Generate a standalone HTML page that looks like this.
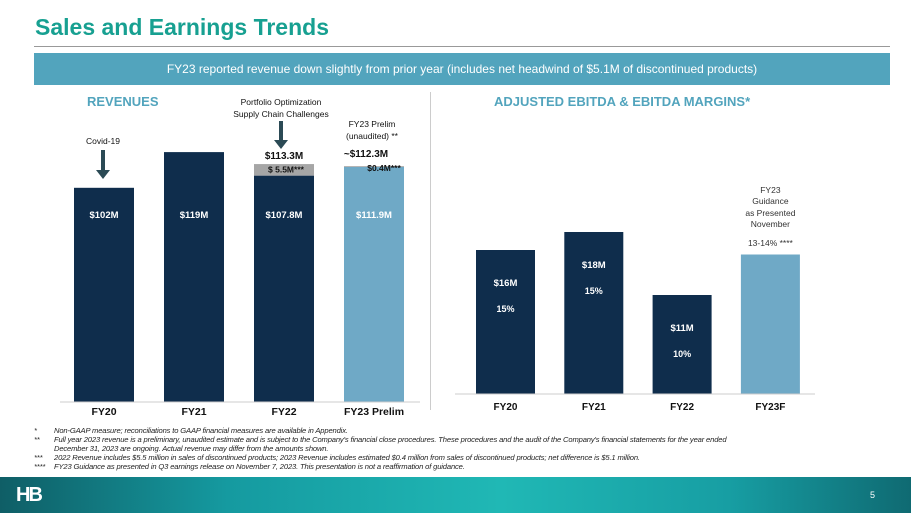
<!DOCTYPE html>
<html><head><meta charset="utf-8">
<style>
body{margin:0;width:911px;height:513px;overflow:hidden;background:#fff;font-family:"Liberation Sans",sans-serif;position:relative}
.a{position:absolute}
</style></head><body>
<div class="a" style="left:35px;top:14px;font-size:23px;font-weight:bold;color:#17a091">Sales and Earnings Trends</div>
<div class="a" style="left:34px;top:46px;width:856px;height:1px;background:#999"></div>
<div class="a" style="left:34px;top:53px;width:856px;height:32px;background:#52a4bd;color:#fff;font-size:12px;line-height:32px;text-align:center">FY23 reported revenue down slightly from prior year (includes net headwind of $5.1M of discontinued products)</div>
<div class="a" style="left:87px;top:94px;font-size:13px;font-weight:bold;color:#52a4bd">REVENUES</div>
<div class="a" style="left:494px;top:94px;font-size:13px;font-weight:bold;color:#52a4bd">ADJUSTED EBITDA &amp; EBITDA MARGINS*</div>
<div class="a" style="left:430px;top:92px;width:1px;height:318px;background:#ccc"></div>
<svg class="a" id="chart" style="left:0;top:0" width="911" height="513"></svg>
<div class="a" style="left:34px;top:426px;font-size:7.6px;font-style:italic;color:#222;line-height:9px;letter-spacing:-0.15px;white-space:nowrap">
<div><span style="display:inline-block;width:20px">*</span>Non-GAAP measure; reconciliations to GAAP financial measures are available in Appendix.</div>
<div><span style="display:inline-block;width:20px">**</span>Full year 2023 revenue is a preliminary, unaudited estimate and is subject to the Company's financial close procedures. These procedures and the audit of the Company's financial statements for the year ended</div>
<div><span style="display:inline-block;width:20px"></span>December 31, 2023 are ongoing. Actual revenue may differ from the amounts shown.</div>
<div><span style="display:inline-block;width:20px">***</span>2022 Revenue includes $5.5 million in sales of discontinued products; 2023 Revenue includes estimated $0.4 million from sales of discontinued products; net difference is $5.1 million.</div>
<div><span style="display:inline-block;width:20px">****</span>FY23 Guidance as presented in Q3 earnings release on November 7, 2023. This presentation is not a reaffirmation of guidance.</div>
</div>
<div class="a" style="left:0;top:477px;width:911px;height:36px;background:linear-gradient(90deg,#0f5e66 0%,#159aa0 25%,#20b8b5 55%,#179ea3 80%,#0f6a72 100%)"></div>
<div class="a" style="left:16px;top:484px;font-size:20px;font-weight:bold;color:#fff;letter-spacing:-2px">HB</div>
<div class="a" style="left:870px;top:490px;font-size:9px;color:#fff">5</div>
<script>
const revCats=["FY20","FY21","FY22","FY23 Prelim"];
const revBase=[102,119,107.8,111.9];
const revDisc=[0,0,5.5,0.4];
const revInLabels=["$102M","$119M","$107.8M","$111.9M"];
const ebCats=["FY20","FY21","FY22","FY23F"];
const ebVals=[16,18,11,15.5];
const ebLabels=["$16M","$18M","$11M",""];
const ebMargins=["15%","15%","10%",""];
const NS="http://www.w3.org/2000/svg";
const svg=document.getElementById('chart');
function mk(t,at,txt){const e=document.createElementNS(NS,t);for(const k in at)e.setAttribute(k,at[k]);if(txt!==undefined)e.textContent=txt;svg.appendChild(e);return e;}
const rBase=402,rK=2.1;const rY=v=>rBase-v*rK;const rX=i=>74+i*90;const rW=60;
revCats.forEach((c,i)=>{
 const col=i==3?"#6fa9c6":"#0f2d4c";
 let b=mk('rect',{x:rX(i),y:rY(revBase[i]),width:rW,height:revBase[i]*rK,fill:col});
 
 
 if(revDisc[i]>0){let g=mk('rect',{x:rX(i),y:rY(revBase[i]+revDisc[i]),width:rW,height:revDisc[i]*rK,fill:"#a6a6a6"});
 
 }
 let t=mk('text',{x:rX(i)+rW/2,y:218,'text-anchor':'middle',fill:'#fff','font-size':9.5,'font-weight':'bold'},revInLabels[i]);
 
 
 let l=mk('text',{x:rX(i)+rW/2,y:415,'text-anchor':'middle',fill:'#111','font-size':10.5,'font-weight':'bold'},c);
 
 
});
let ax=mk('line',{x1:60,x2:420,y1:rBase,y2:rBase,stroke:'#ccc'});


const tx=(x,y,s,txt,extra)=>{let e=mk('text',Object.assign({x:x,y:y,'font-size':s,fill:'#111','text-anchor':'middle'},extra||{}),txt);return e;};
tx(rX(2)+rW/2,rY(revBase[2]+revDisc[2])-5,10,"$113.3M",{'font-weight':'bold'});
tx(rX(2)+rW/2+2,rY(revBase[2])-3,8.5,"$ 5.5M***",{'font-weight':'bold'});
tx(rX(3)+rW/2-8,rY(revBase[3]+revDisc[3])-9,10,"~$112.3M",{'font-weight':'bold'});
tx(rX(3)+rW/2+10,rY(revBase[3])+4,8.5,"$0.4M***",{'font-weight':'bold'});
tx(103,144,8.5,"Covid-19");
tx(281,105,8.5,"Portfolio Optimization");
tx(281,117,8.5,"Supply Chain Challenges");
tx(372,127,8.5,"FY23  Prelim");
tx(372,139,8.5,"(unaudited)  **");
function arrow(x,y1,y2){let g=mk('path',{d:`M${x-2} ${y1}h4v${y2-y1-8}h5l-7 9-7-9h5z`,fill:'#2b4a55'});}
arrow(103,150,178);arrow(281,121,148);
const eBase=394,eK=9.0;const eY=v=>eBase-v*eK;const eX=i=>476+i*88.3;const eW=59;
ebCats.forEach((c,i)=>{
 const col=i==3?"#6fa9c6":"#0f2d4c";
 let b=mk('rect',{x:eX(i),y:eY(ebVals[i]),width:eW,height:ebVals[i]*eK,fill:col});
 
 
 if(ebLabels[i]){let t=mk('text',{x:eX(i)+eW/2,y:eY(ebVals[i])+36,'text-anchor':'middle',fill:'#fff','font-size':9.5,'font-weight':'bold'},ebLabels[i]);
 
 
 let m=mk('text',{x:eX(i)+eW/2,y:eY(ebVals[i])+62,'text-anchor':'middle',fill:'#fff','font-size':9,'font-weight':'bold'},ebMargins[i]);
 
 }
 let l=mk('text',{x:eX(i)+eW/2,y:410,'text-anchor':'middle',fill:'#111','font-size':10,'font-weight':'bold'},c);
 
 
});
let ax2=mk('line',{x1:455,x2:815,y1:eBase,y2:eBase,stroke:'#ccc'});


const gx=eX(3)+eW/2;
tx(gx,193,8.5,"FY23",{fill:'#333'});tx(gx,204,8.5,"Guidance",{fill:'#333'});tx(gx,216,8.5,"as Presented",{fill:'#333'});tx(gx,227,8.5,"November",{fill:'#333'});
tx(gx,246,8.5,"13-14% ****",{fill:'#333'});
</script>
</body></html>
